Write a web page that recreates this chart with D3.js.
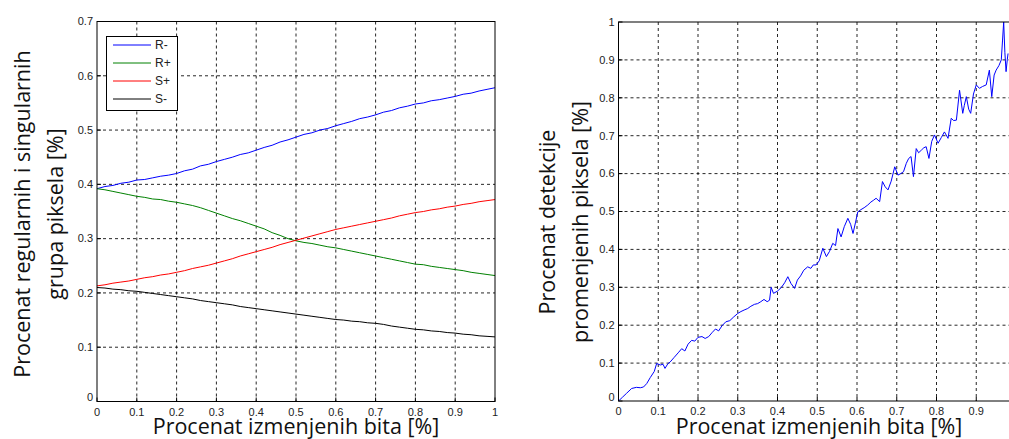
<!DOCTYPE html>
<html>
<head>
<meta charset="utf-8">
<script src="https://cdn.jsdelivr.net/npm/d3@7"></script>
<style>
  body { margin: 0; background: #fff; }
  svg { display: block; }
  .tick-label { font-family: "Liberation Sans", Arial, sans-serif; font-size: 11px; fill: #222; }
  .axis-title { font-family: "Open Sans", sans-serif; font-size: 21.5px; fill: #111; }
</style>
</head>
<body>
<div id="chart"></div>
<script>
// left chart: x = percent of changed bits (0..1, step 0.02)
const bitSteps = d3.range(51).map(i => i / 50);
const rMinus = [0.392, 0.396, 0.398, 0.402, 0.404, 0.408, 0.409, 0.412, 0.415, 0.417,
  0.420, 0.425, 0.428, 0.434, 0.437, 0.442, 0.446, 0.450, 0.455, 0.458,
  0.463, 0.468, 0.472, 0.478, 0.482, 0.487, 0.492, 0.495, 0.500, 0.503,
  0.508, 0.512, 0.516, 0.521, 0.524, 0.528, 0.533, 0.536, 0.541, 0.544,
  0.548, 0.550, 0.554, 0.556, 0.559, 0.562, 0.566, 0.568, 0.572, 0.575, 0.578];
const rPlus = [0.392, 0.390, 0.387, 0.384, 0.381, 0.378, 0.376, 0.373, 0.372, 0.369,
  0.367, 0.364, 0.361, 0.357, 0.352, 0.347, 0.342, 0.337, 0.333, 0.328,
  0.323, 0.318, 0.311, 0.306, 0.300, 0.296, 0.293, 0.291, 0.288, 0.285,
  0.283, 0.280, 0.277, 0.274, 0.271, 0.268, 0.265, 0.262, 0.259, 0.256,
  0.253, 0.252, 0.249, 0.247, 0.245, 0.243, 0.241, 0.238, 0.236, 0.234, 0.232];
const sPlus = [0.213, 0.215, 0.218, 0.220, 0.222, 0.225, 0.228, 0.230, 0.233, 0.235,
  0.238, 0.241, 0.245, 0.248, 0.251, 0.255, 0.259, 0.263, 0.268, 0.272,
  0.276, 0.280, 0.284, 0.289, 0.293, 0.297, 0.301, 0.305, 0.309, 0.313,
  0.317, 0.320, 0.323, 0.326, 0.329, 0.332, 0.335, 0.338, 0.342, 0.345,
  0.348, 0.350, 0.353, 0.355, 0.358, 0.360, 0.363, 0.365, 0.368, 0.370, 0.372];
const sMinus = [0.210, 0.209, 0.207, 0.206, 0.204, 0.203, 0.201, 0.199, 0.197, 0.195,
  0.193, 0.191, 0.189, 0.186, 0.184, 0.182, 0.180, 0.178, 0.175, 0.173,
  0.171, 0.169, 0.167, 0.165, 0.163, 0.161, 0.159, 0.157, 0.155, 0.153,
  0.151, 0.150, 0.148, 0.147, 0.145, 0.144, 0.142, 0.139, 0.137, 0.135,
  0.133, 0.132, 0.130, 0.129, 0.127, 0.126, 0.124, 0.123, 0.121, 0.120, 0.119];

const seriesNames = ["R-", "R+", "S+", "S-"];
const seriesColors = ["#0000ff", "#008000", "#ff0000", "#000000"];
const seriesValues = [rMinus, rPlus, sPlus, sMinus];

// right chart: detection rate
const detX = [0, 0.01, 0.02, 0.033, 0.045, 0.055, 0.063, 0.071, 0.08, 0.09,
  0.096, 0.105, 0.112, 0.117, 0.124, 0.13, 0.14, 0.15, 0.159, 0.167,
  0.175, 0.184, 0.192, 0.2, 0.21, 0.218, 0.227, 0.235, 0.244, 0.252,
  0.26, 0.27, 0.28, 0.29, 0.3, 0.308, 0.316, 0.325, 0.333, 0.342,
  0.35, 0.358, 0.366, 0.374, 0.38, 0.384, 0.39, 0.4, 0.41, 0.418,
  0.426, 0.434, 0.443, 0.45, 0.458, 0.466, 0.476, 0.484, 0.49, 0.497,
  0.505, 0.514, 0.523, 0.531, 0.539, 0.546, 0.552, 0.56, 0.568, 0.577,
  0.584, 0.59, 0.596, 0.602, 0.61, 0.618, 0.627, 0.635, 0.642, 0.648,
  0.657, 0.664, 0.671, 0.678, 0.686, 0.695, 0.703, 0.71, 0.717, 0.724,
  0.73, 0.736, 0.742, 0.749, 0.755, 0.762, 0.768, 0.774, 0.781, 0.788,
  0.795, 0.804, 0.812, 0.82, 0.829, 0.837, 0.843, 0.85, 0.858, 0.866,
  0.87, 0.875, 0.881, 0.886, 0.893, 0.9, 0.908, 0.916, 0.925, 0.933,
  0.939, 0.945, 0.95, 0.957, 0.963, 0.966, 0.969, 0.972, 0.975, 0.978,
  0.98];
const detY = [0, 0.01, 0.02, 0.033, 0.036, 0.035, 0.037, 0.046, 0.062, 0.078,
  0.099, 0.095, 0.097, 0.086, 0.098, 0.103, 0.115, 0.127, 0.138, 0.132,
  0.15, 0.16, 0.158, 0.168, 0.17, 0.165, 0.17, 0.18, 0.19, 0.185,
  0.198, 0.209, 0.212, 0.222, 0.231, 0.236, 0.24, 0.244, 0.25, 0.255,
  0.257, 0.262, 0.268, 0.262, 0.266, 0.30, 0.284, 0.29, 0.30, 0.312,
  0.328, 0.31, 0.297, 0.319, 0.33, 0.345, 0.354, 0.35, 0.359, 0.359,
  0.37, 0.403, 0.381, 0.395, 0.416, 0.41, 0.455, 0.433, 0.46, 0.482,
  0.466, 0.442, 0.47, 0.499, 0.505, 0.51, 0.517, 0.525, 0.53, 0.535,
  0.526, 0.579, 0.565, 0.557, 0.58, 0.618, 0.596, 0.6, 0.605, 0.627,
  0.64, 0.645, 0.592, 0.666, 0.655, 0.662, 0.668, 0.671, 0.64, 0.685,
  0.702, 0.68, 0.695, 0.71, 0.693, 0.746, 0.74, 0.741, 0.82, 0.759,
  0.78, 0.803, 0.77, 0.759, 0.81, 0.834, 0.825, 0.83, 0.834, 0.873,
  0.803, 0.86, 0.873, 0.885, 0.9, 0.95, 1.0, 0.92, 0.869, 0.9,
  0.917];

const xTicks = d3.range(11).map(i => i / 10);
const leftYTicks = d3.range(8).map(i => i / 10);
const rightYTicks = d3.range(11).map(i => i / 10);

const xTitle = "Procenat izmenjenih bita [%]";
const leftYTitle = ["Procenat regularnih i singularnih", "grupa piksela [%]"];
const rightYTitle = ["Procenat detekcije", "promenjenih piksela [%]"];

const width = 1009, height = 439;

const svg = d3.select("#chart").append("svg")
  .attr("width", width)
  .attr("height", height);

function drawPanel(opts) {
  const x = d3.scaleLinear().domain([0, 1]).range([opts.left, opts.right]);
  const y = d3.scaleLinear().domain([0, opts.yMax]).range([opts.bottom, opts.top]);
  const g = svg.append("g");

  const clipId = "clip-" + opts.id;
  g.append("clipPath").attr("id", clipId)
    .append("rect")
    .attr("x", opts.left).attr("y", opts.top)
    .attr("width", opts.right - opts.left)
    .attr("height", opts.bottom - opts.top);

  // dashed grid
  g.append("g").selectAll("line")
    .data(opts.xTicks.filter(d => d > 0 && d < 1))
    .join("line")
    .attr("x1", d => x(d)).attr("x2", d => x(d))
    .attr("y1", opts.top).attr("y2", opts.bottom)
    .attr("stroke", "#000").attr("stroke-opacity", 0.85)
    .attr("stroke-dasharray", "3,3");
  g.append("g").selectAll("line")
    .data(opts.yTicks.filter(d => d > 0 && d < opts.yMax))
    .join("line")
    .attr("x1", opts.left).attr("x2", opts.right)
    .attr("y1", d => y(d)).attr("y2", d => y(d))
    .attr("stroke", "#000").attr("stroke-opacity", 0.85)
    .attr("stroke-dasharray", "3,3");

  // small inward ticks
  const ticks = g.append("g").attr("stroke", "#000");
  ticks.selectAll(".tb").data(opts.xTicks).join("line")
    .attr("x1", d => x(d)).attr("x2", d => x(d))
    .attr("y1", opts.bottom).attr("y2", opts.bottom - 4);
  ticks.selectAll(".tl").data(opts.yTicks).join("line")
    .attr("x1", opts.left).attr("x2", opts.left + 4)
    .attr("y1", d => y(d)).attr("y2", d => y(d));

  // lines
  const lineG = g.append("g").attr("clip-path", `url(#${clipId})`);
  opts.series.forEach(s => {
    lineG.append("path")
      .datum(s.points)
      .attr("fill", "none")
      .attr("stroke", s.color)
      .attr("stroke-width", 1)
      .attr("d", d3.line().x(d => x(d[0])).y(d => y(d[1])));
  });

  // box
  g.append("rect")
    .attr("x", opts.left).attr("y", opts.top)
    .attr("width", opts.right - opts.left)
    .attr("height", opts.bottom - opts.top)
    .attr("fill", "none").attr("stroke", "#000").attr("stroke-width", 1);

  // tick labels
  g.append("g").selectAll("text")
    .data(opts.xTicks)
    .join("text")
    .attr("class", "tick-label")
    .attr("x", d => x(d))
    .attr("y", opts.bottom + 14)
    .attr("text-anchor", "middle")
    .text(d => d3.format("")(d));
  g.append("g").selectAll("text")
    .data(opts.yTicks)
    .join("text")
    .attr("class", "tick-label")
    .attr("x", opts.left - 4)
    .attr("y", d => y(d) - (d === 0 ? 4 : 0))
    .attr("dy", "0.35em")
    .attr("text-anchor", "end")
    .text(d => d3.format("")(d));

  // titles
  g.append("text")
    .attr("class", "axis-title")
    .attr("x", opts.titleX)
    .attr("y", 434)
    .attr("text-anchor", "middle")
    .text(xTitle);

  const yt = g.append("text")
    .attr("class", "axis-title")
    .attr("transform", `translate(${opts.yTitleX},${opts.yTitleY}) rotate(-90)`)
    .attr("text-anchor", "middle");
  opts.yTitle.forEach((t, i) => {
    yt.append("tspan").attr("x", 0).attr("dy", i === 0 ? 0 : 33).text(t);
  });

  return { x, y, g };
}

const left = drawPanel({
  id: "l", left: 97, right: 495, top: 21.5, bottom: 401.5, yMax: 0.7,
  xTicks, yTicks: leftYTicks, yTitle: leftYTitle,
  titleX: 296, yTitleX: 30, yTitleY: 214,
  series: seriesValues.map((vals, i) => ({
    color: seriesColors[i],
    points: vals.map((v, j) => [bitSteps[j], v])
  }))
});

drawPanel({
  id: "r", left: 618.5, right: 1016, top: 22, bottom: 401, yMax: 1,
  xTicks: xTicks.filter(d => d < 1), yTicks: rightYTicks, yTitle: rightYTitle,
  titleX: 819, yTitleX: 555, yTitleY: 222,
  series: [{ color: "#0000ff", points: detX.map((v, j) => [v, detY[j]]) }]
});

// legend
const legend = left.g.append("g");
legend.append("rect")
  .attr("x", 106.5).attr("y", 36.5).attr("width", 71).attr("height", 74)
  .attr("fill", "#fff").attr("stroke", "#000");
const rows = legend.selectAll("g.row")
  .data(seriesNames)
  .join("g")
  .attr("transform", (d, i) => `translate(0,${45 + i * 18})`);
rows.append("line")
  .attr("x1", 113).attr("x2", 151)
  .attr("stroke", (d, i) => seriesColors[i]);
rows.append("text")
  .attr("class", "tick-label")
  .attr("x", 155).attr("dy", "0.35em")
  .style("font-size", "12px")
  .text(d => d);
</script>
</body>
</html>
